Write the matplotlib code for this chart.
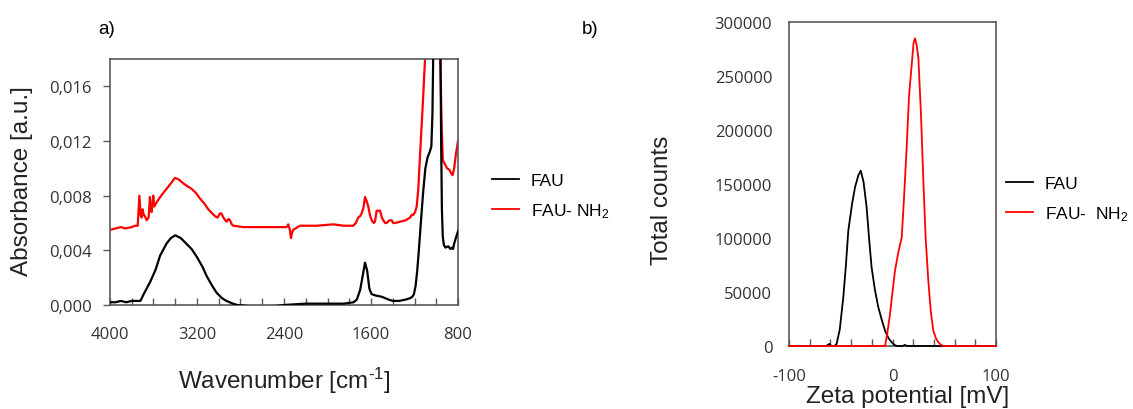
import matplotlib
matplotlib.use("Agg")
import matplotlib.pyplot as plt
from matplotlib.lines import Line2D
from matplotlib.ticker import FixedLocator, FuncFormatter, MultipleLocator

plt.rcParams['font.family'] = ['Liberation Sans', 'DejaVu Sans']
plt.rcParams['mathtext.default'] = 'regular'
plt.rcParams['axes.unicode_minus'] = False

# ---------------- data: panel a (FTIR) ----------------
fau_wn = [4000, 3950, 3900, 3850, 3800, 3760, 3720, 3690, 3630, 3580, 3540, 3480, 3440, 3400,
          3350, 3300, 3250, 3200, 3150, 3110, 3060, 3020, 2970, 2930, 2870, 2830, 2700, 2500,
          2400, 2200, 2000, 1850, 1760, 1730, 1700, 1675, 1655, 1635, 1615, 1595, 1560, 1500,
          1440, 1400, 1340, 1280, 1240, 1220, 1205, 1190, 1175, 1160, 1140, 1120, 1100, 1080,
          1060, 1045, 1035, 1025, 1000, 975, 962, 955, 948, 940, 930, 915, 890, 870, 855, 845,
          835, 820, 800]
fau_abs = [0.0002, 0.0002, 0.0003, 0.0002, 0.0003, 0.0003, 0.0003, 0.0008, 0.0017, 0.0026,
           0.0036, 0.0045, 0.0049, 0.0051, 0.0049, 0.0045, 0.0041, 0.0035, 0.0028, 0.0021,
           0.0014, 0.0009, 0.0005, 0.0003, 0.0001, 0.0000, -0.0001, -0.0001, 0.0000, 0.0001,
           0.0001, 0.0001, 0.0002, 0.0004, 0.0011, 0.0022, 0.0031, 0.0025, 0.0012, 0.0008,
           0.0007, 0.0006, 0.0004, 0.0003, 0.0003, 0.0004, 0.0005, 0.0006, 0.0008, 0.0014,
           0.0025, 0.0040, 0.0062, 0.0083, 0.0100, 0.0108, 0.0112, 0.0116, 0.0140, 0.0200,
           0.0300, 0.0250, 0.0190, 0.0120, 0.0070, 0.0050, 0.0044, 0.0042, 0.0043, 0.0041,
           0.0042, 0.0041, 0.0045, 0.0049, 0.0054]

nh2_wn = [4000, 3950, 3900, 3860, 3800, 3770, 3745, 3730, 3718, 3709, 3700, 3690, 3679, 3663,
          3645, 3633, 3625, 3617, 3602, 3594, 3587, 3556, 3520, 3480, 3440, 3403, 3370, 3326,
          3290, 3250, 3210, 3173, 3130, 3096, 3060, 3035, 3010, 2989, 2975, 2958, 2940, 2927,
          2910, 2897, 2880, 2866, 2774, 2600, 2450, 2376, 2361, 2346, 2336, 2325, 2315, 2254,
          2100, 1947, 1850, 1763, 1740, 1717, 1700, 1686, 1670, 1655, 1640, 1625, 1610, 1594,
          1575, 1563, 1548, 1530, 1517, 1500, 1487, 1470, 1456, 1430, 1410, 1395, 1379, 1330,
          1280, 1241, 1225, 1210, 1195, 1180, 1165, 1149, 1125, 1103, 1080, 1050, 1000, 965,
          950, 940, 920, 900, 880, 860, 850, 835, 820, 800]
nh2_abs = [0.0055, 0.0056, 0.0057, 0.0056, 0.0057, 0.0058, 0.0058, 0.0080, 0.0066, 0.0064,
           0.0070, 0.0066, 0.0065, 0.0062, 0.0064, 0.0079, 0.0070, 0.0068, 0.0080, 0.0072,
           0.0073, 0.0077, 0.0081, 0.0085, 0.0089, 0.0093, 0.0092, 0.0089, 0.0087, 0.0085,
           0.0082, 0.0078, 0.0074, 0.0070, 0.0067, 0.0065, 0.0064, 0.0067, 0.0067, 0.0064,
           0.0062, 0.0061, 0.0063, 0.0062, 0.0059, 0.0058, 0.0057, 0.0057, 0.0057, 0.0057,
           0.0059, 0.0055, 0.0049, 0.0053, 0.0055, 0.0058, 0.0058, 0.0059, 0.0058, 0.0058,
           0.0060, 0.0064, 0.0065, 0.0067, 0.0071, 0.0079, 0.0076, 0.0072, 0.0066, 0.0062,
           0.0060, 0.0061, 0.0069, 0.0069, 0.0069, 0.0064, 0.0062, 0.0060, 0.0060, 0.0062,
           0.0062, 0.0060, 0.0060, 0.0061, 0.0062, 0.0064, 0.0066, 0.0066, 0.0068, 0.0072,
           0.0085, 0.0110, 0.0145, 0.0180, 0.0250, 0.0300, 0.0300, 0.0190, 0.0130, 0.0106,
           0.0103, 0.0100, 0.0099, 0.0096, 0.0095, 0.0100, 0.0110, 0.0120]

abs_ticks = [0.000, 0.004, 0.008, 0.012, 0.016]
wn_ticks = [4000, 3200, 2400, 1600, 800]

# ---------------- data: panel b (zeta potential) ----------------
fau_zeta = [-100, -64, -61, -59, -56, -54, -51, -47.5, -45, -42.7, -39, -36.2, -33, -30.7,
            -28, -25, -22.5, -20.2, -17, -13.7, -10, -7.2, -4, -0.8, 2, 4, 10, 12, 14, 100]
fau_counts = [0, 0, 2000, 0, 0, 2000, 15000, 45400, 75000, 106800, 132000, 147000, 158000,
              162300, 152000, 128400, 98000, 72900, 52000, 35800, 23000, 14200, 7500, 3400,
              1000, 0, 0, 1000, 0, 0]

nh2_zeta = [-100, -7.2, -5, -2.4, 0, 2.4, 5.5, 8.9, 11, 13.7, 16, 18.6, 20.3, 21.7, 23.3, 25,
            27.5, 29.8, 32, 34.6, 37, 39.4, 42, 44.3, 47, 49, 100]
nh2_counts = [0, 0, 12000, 29600, 50000, 69700, 86000, 100600, 135000, 184000, 232000, 261000,
              280000, 285000, 279000, 267000, 215000, 153000, 100000, 60500, 32000, 14200, 7000,
              3400, 1000, 0, 0]

counts_ticks = [0, 50000, 100000, 150000, 200000, 250000, 300000]
zeta_ticks = [-100, 0, 100]

series_labels_a = ['FAU', 'FAU- NH$_2$']
series_labels_b = ['FAU', 'FAU-  NH$_2$']

# ---------------- figure ----------------
W, H = 1133, 410
fig = plt.figure(figsize=(W / 100, H / 100), dpi=100)

spine_col = '#595959'
tick_family = ['Open Sans', 'DejaVu Sans']
tick_size = 12


def fx(px):
    return px / W


def fy(py):
    return 1 - py / H


def style_ticklabels(ax):
    for lab in ax.get_xticklabels() + ax.get_yticklabels():
        lab.set_fontfamily(tick_family)
        lab.set_fontsize(tick_size)
        lab.set_color('#333333')
    for s in ax.spines.values():
        s.set_color(spine_col)
        s.set_linewidth(1.2)


# panel a
axa = fig.add_axes([fx(110), fy(306), fx(458) - fx(110), fy(60) - fy(306)])
axa.plot(fau_wn, fau_abs, color='black', lw=1.6, zorder=3)
axa.plot(nh2_wn, nh2_abs, color='#ff0000', lw=1.6, zorder=2)
axa.set_xlim(4000, 800)
axa.set_ylim(0, 0.018)
axa.xaxis.set_major_locator(FixedLocator(wn_ticks))
axa.xaxis.set_minor_locator(MultipleLocator(200))
axa.xaxis.remove_overlapping_locs = False
axa.yaxis.set_major_locator(FixedLocator(abs_ticks))
axa.yaxis.set_major_formatter(FuncFormatter(lambda v, p: f"{v:.3f}".replace('.', ',')))
axa.tick_params(axis='x', which='major', direction='in', length=0, pad=15)
axa.tick_params(axis='x', which='minor', direction='in', length=5, width=1, color=spine_col)
axa.tick_params(axis='y', which='major', direction='out', length=5, width=1, color=spine_col, pad=8)
style_ticklabels(axa)
axa.set_xlabel('Wavenumber [cm$^{\u2010 1}$]', fontsize=17.5, color='#222222')
axa.xaxis.set_label_coords(0.5, (306 - 381) / 246)
axa.xaxis.label.set_va('center')
axa.set_ylabel('Absorbance [a.u.]', fontsize=17.5, color='#222222')
axa.yaxis.set_label_coords((22 - 110) / 348, (306 - 181) / 246)
axa.yaxis.label.set_va('center')

# panel b
axb = fig.add_axes([fx(789), fy(347), fx(996) - fx(789), fy(23) - fy(347)])
axb.plot(fau_zeta, fau_counts, color='black', lw=1.3, zorder=3, clip_on=False)
axb.plot(nh2_zeta, nh2_counts, color='#ff0000', lw=1.3, zorder=4, clip_on=False)
axb.set_xlim(-100, 100)
axb.set_ylim(0, 300000)
axb.xaxis.set_major_locator(FixedLocator(zeta_ticks))
axb.xaxis.set_minor_locator(MultipleLocator(20))
axb.xaxis.remove_overlapping_locs = False
axb.yaxis.set_major_locator(FixedLocator(counts_ticks))
axb.tick_params(axis='x', which='major', direction='in', length=0, pad=16)
axb.tick_params(axis='x', which='minor', direction='in', length=5, width=1, color=spine_col)
axb.tick_params(axis='y', which='major', length=0, pad=12)
style_ticklabels(axb)
axb.set_xlabel('Zeta potential [mV]', fontsize=17.5, color='#222222')
axb.xaxis.set_label_coords((908 - 789) / 207, (347 - 397) / 324)
axb.xaxis.label.set_va('center')
axb.set_ylabel('Total counts', fontsize=17.5, color='#222222')
axb.yaxis.set_label_coords((662 - 789) / 207, (347 - 200) / 324)
axb.yaxis.label.set_va('center')


# legends
def make_legend(labels, x_px, y_px):
    handles = [Line2D([], [], color='black', lw=1.3), Line2D([], [], color='#ff0000', lw=1.3)]
    fig.legend(handles, labels, loc='upper left', bbox_to_anchor=(fx(x_px), fy(y_px)),
               frameon=False, fontsize=12.5, handlelength=1.55, handletextpad=0.7,
               labelspacing=0.75, borderpad=0, borderaxespad=0)


make_legend(series_labels_a, 492, 174)
make_legend(series_labels_b, 1006, 177)

# panel letters
fig.text(fx(107), fy(30), 'a)', fontsize=13.5, ha='center', va='center')
fig.text(fx(590), fy(30), 'b)', fontsize=13.5, ha='center', va='center')

fig.savefig('out.png', dpi=100)
